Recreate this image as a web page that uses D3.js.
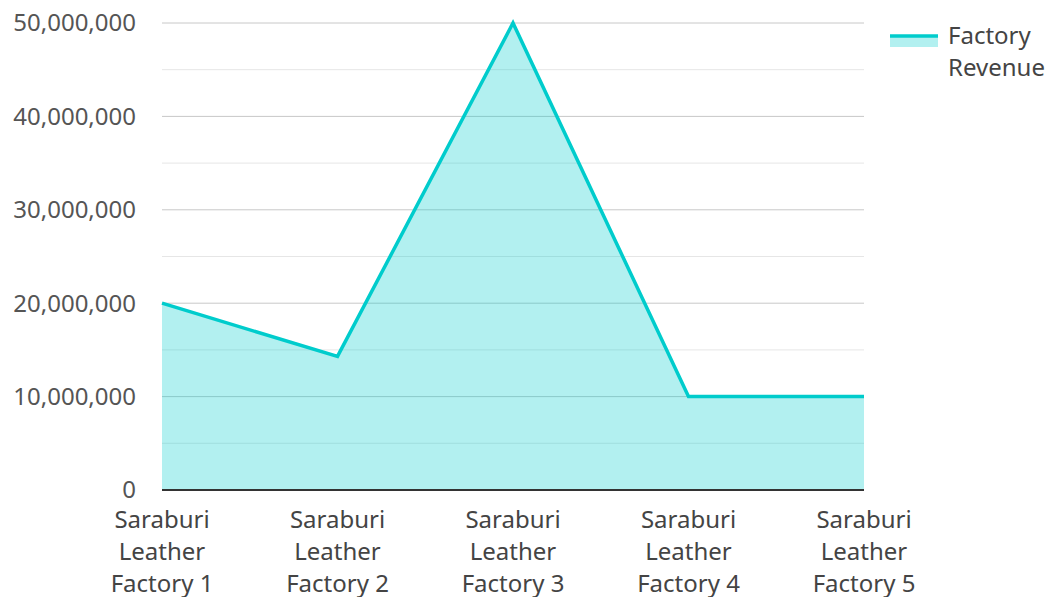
<!DOCTYPE html>
<html><head><meta charset="utf-8">
<script src="https://cdn.jsdelivr.net/npm/d3@7"></script>
<style>body{margin:0;background:#fff;} text{font-family:"Noto Sans","Open Sans",sans-serif;}</style>
</head><body>
<svg id="c" width="1051" height="597"></svg>
<script>
const categories = ["Saraburi Leather Factory 1","Saraburi Leather Factory 2","Saraburi Leather Factory 3","Saraburi Leather Factory 4","Saraburi Leather Factory 5"];
const revenue = [20000000, 14300000, 50000000, 10000000, 10000000];
const majorTicks = [0, 10000000, 20000000, 30000000, 40000000, 50000000];
const minorTicks = [5000000, 15000000, 25000000, 35000000, 45000000];
const seriesName = ["Factory", "Revenue"];

const svg = d3.select("#c");
const L = 162, R = 864, T = 23, B = 490;
const x = d3.scalePoint().domain(categories).range([L, R]);
const y = d3.scaleLinear().domain([0, 50000000]).range([B, T]);
const fmt = d3.format(",");

svg.append("g").selectAll("line").data(minorTicks).join("line")
  .attr("x1", L).attr("x2", R).attr("y1", d => y(d)).attr("y2", d => y(d))
  .attr("stroke", "#e6e6e6").attr("stroke-width", 1);
svg.append("g").selectAll("line").data(majorTicks.filter(d => d > 0)).join("line")
  .attr("x1", L).attr("x2", R).attr("y1", d => y(d)).attr("y2", d => y(d))
  .attr("stroke", "#c8c8c8").attr("stroke-width", 1);

svg.append("g").selectAll("text").data(majorTicks).join("text")
  .attr("x", 136).attr("y", d => y(d)).attr("dy", "0.35em")
  .attr("text-anchor", "end").attr("font-size", 24).attr("fill", "#555")
  .text(d => fmt(d));

const area = d3.area().x((d, i) => x(categories[i])).y0(y(0)).y1(d => y(d));
const line = d3.line().x((d, i) => x(categories[i])).y(d => y(d));
svg.append("path").datum(revenue).attr("d", area).attr("fill", "#00cccc").attr("fill-opacity", 0.3);
svg.append("path").datum(revenue).attr("d", line).attr("fill", "none").attr("stroke", "#00cccc").attr("stroke-width", 3.5).attr("stroke-linejoin", "miter");

svg.append("line").attr("x1", L).attr("x2", R).attr("y1", B).attr("y2", B).attr("stroke", "#333").attr("stroke-width", 2);

const xl = svg.append("g").selectAll("text").data(categories).join("text")
  .attr("x", d => x(d)).attr("text-anchor", "middle").attr("font-size", 24).attr("fill", "#444");
xl.each(function(d) {
  const words = d.split(" ");
  const lines = [words[0], words[1], words.slice(2).join(" ")];
  d3.select(this).selectAll("tspan").data(lines).join("tspan")
    .attr("x", x(d)).attr("y", (l, i) => 528 + i * 32).text(l => l);
});

const lg = svg.append("g");
lg.append("rect").attr("x", 890).attr("y", 36).attr("width", 48).attr("height", 11).attr("fill", "#00cccc").attr("fill-opacity", 0.3);
lg.append("line").attr("x1", 890).attr("x2", 938).attr("y1", 36).attr("y2", 36).attr("stroke", "#00cccc").attr("stroke-width", 3.5);
lg.selectAll("text").data(seriesName).join("text")
  .attr("x", 948).attr("y", (d, i) => 44 + i * 32).attr("font-size", 24).attr("fill", "#444").text(d => d);
</script>
</body></html>
